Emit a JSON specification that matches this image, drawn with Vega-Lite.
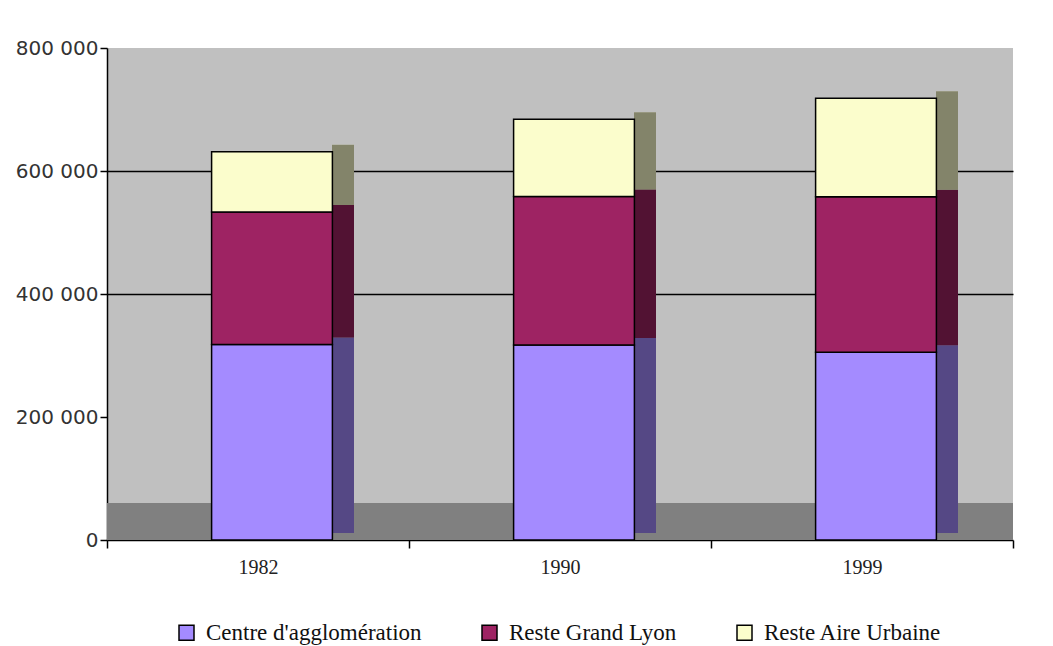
{
  "$schema": "https://vega.github.io/schema/vega-lite/v6.json",
  "width": 906,
  "height": 492,
  "autosize": {"type": "none"},
  "padding": {"left": 107, "top": 48, "right": 40, "bottom": 106},
  "background": "white",
  "config": {
    "view": {"fill": "#c0c0c0", "stroke": null}
  },
  "datasets": {
    "pop": [
      {"year": "1982", "category": "Centre d'agglomération", "rank": 1, "value": 318000},
      {"year": "1982", "category": "Reste Grand Lyon", "rank": 2, "value": 215500},
      {"year": "1982", "category": "Reste Aire Urbaine", "rank": 3, "value": 98000},
      {"year": "1990", "category": "Centre d'agglomération", "rank": 1, "value": 317000},
      {"year": "1990", "category": "Reste Grand Lyon", "rank": 2, "value": 241600},
      {"year": "1990", "category": "Reste Aire Urbaine", "rank": 3, "value": 125700},
      {"year": "1999", "category": "Centre d'agglomération", "rank": 1, "value": 305300},
      {"year": "1999", "category": "Reste Grand Lyon", "rank": 2, "value": 253000},
      {"year": "1999", "category": "Reste Aire Urbaine", "rank": 3, "value": 160000}
    ],
    "floor": [{"f0": 0, "f1": 60000}]
  },
  "layer": [
    {
      "data": {"name": "floor"},
      "mark": {"type": "rect", "fill": "#808080"},
      "encoding": {
        "y": {"field": "f0", "type": "quantitative"},
        "y2": {"field": "f1"}
      }
    },
    {
      "data": {"name": "pop"},
      "mark": {"type": "bar", "width": 22, "xOffset": 85, "yOffset": -7, "strokeWidth": 0},
      "encoding": {
        "x": {"field": "year", "type": "nominal"},
        "y": {"field": "value", "type": "quantitative", "stack": "zero"},
        "order": {"field": "rank"},
        "color": {"field": "category", "type": "nominal"}
      }
    },
    {
      "data": {"name": "pop"},
      "mark": {"type": "bar", "width": 22, "xOffset": 85, "yOffset": -7, "fill": "black", "fillOpacity": 0.48, "strokeWidth": 0},
      "encoding": {
        "x": {"field": "year", "type": "nominal"},
        "y": {"field": "value", "type": "quantitative", "stack": "zero"},
        "order": {"field": "rank"},
        "detail": {"field": "category", "type": "nominal"}
      }
    },
    {
      "data": {"name": "pop"},
      "mark": {"type": "bar", "width": {"band": 0.4}, "xOffset": 14, "stroke": "black", "strokeWidth": 1.5},
      "encoding": {
        "x": {
          "field": "year",
          "type": "nominal",
          "title": null,
          "scale": {"paddingInner": 0, "paddingOuter": 0},
          "axis": {
            "labelAngle": 0,
            "labelAlign": "center",
            "labelFont": "Liberation Serif",
            "labelFontSize": 20,
            "labelColor": "#222",
            "labelPadding": 19,
            "domainColor": "black",
            "domainWidth": 1.5,
            "tickColor": "black",
            "tickWidth": 1.5,
            "tickSize": 8,
            "tickBand": "extent",
            "grid": false
          }
        },
        "y": {
          "field": "value",
          "type": "quantitative",
          "stack": "zero",
          "title": null,
          "scale": {"domain": [0, 800000], "nice": false},
          "axis": {
            "values": [0, 200000, 400000, 600000, 800000],
            "labelExpr": "replace(format(datum.value, ','), /,/g, ' ')",
            "labelFont": "DejaVu Sans",
            "labelFontSize": 20,
            "labelColor": "#333333",
            "labelPadding": 2,
            "domainColor": "black",
            "domainWidth": 1.5,
            "tickColor": "black",
            "tickWidth": 1.5,
            "tickSize": 7,
            "grid": true,
            "gridColor": "black",
            "gridWidth": 1.5,
            "gridOpacity": {"condition": {"test": "datum.value == 400000 || datum.value == 600000", "value": 1}, "value": 0}
          }
        },
        "order": {"field": "rank"},
        "color": {
          "field": "category",
          "type": "nominal",
          "scale": {"domain": ["Centre d'agglomération", "Reste Grand Lyon", "Reste Aire Urbaine"], "range": ["#a48bff", "#9e2363", "#fbfdcc"]},
          "legend": {
            "title": null,
            "orient": "none",
            "legendX": 68,
            "legendY": 573,
            "direction": "horizontal",
            "symbolType": "square",
            "symbolSize": 225,
            "symbolStrokeColor": "black",
            "symbolStrokeWidth": 1.5,
            "labelFont": "Liberation Serif",
            "labelFontSize": 23,
            "labelColor": "#111",
            "labelOffset": 8,
            "columnPadding": 56,
            "labelLimit": 400
          }
        }
      }
    }
  ]
}
